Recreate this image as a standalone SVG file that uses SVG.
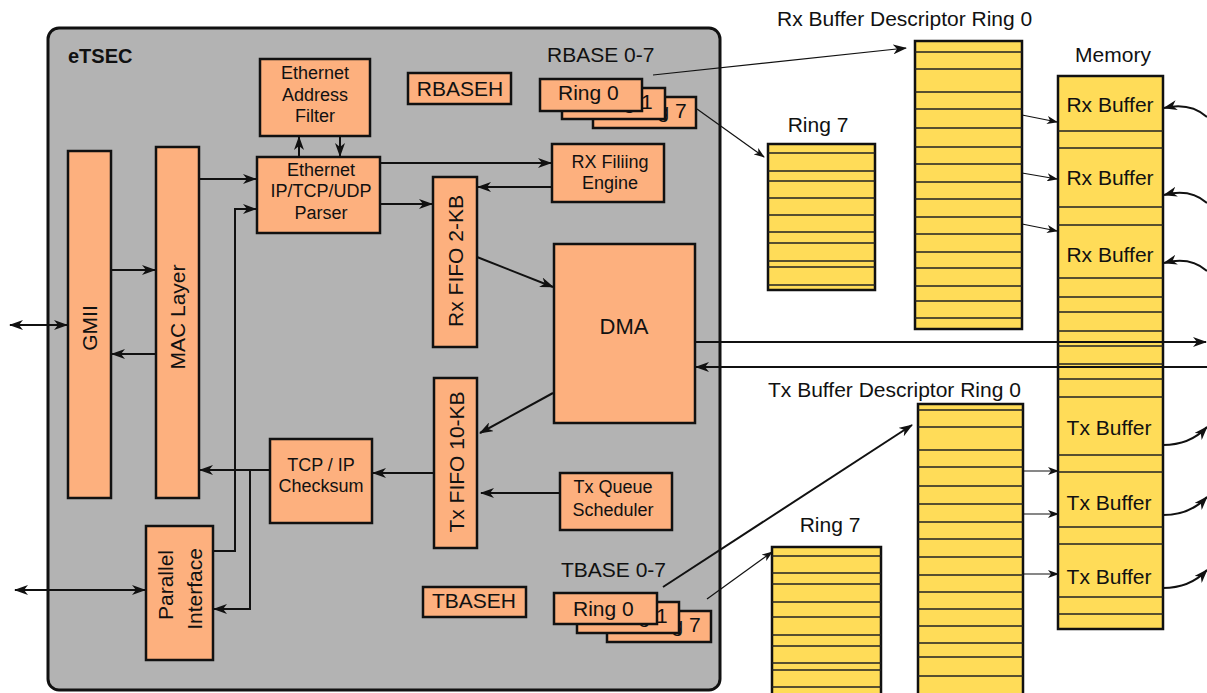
<svg xmlns="http://www.w3.org/2000/svg" width="1207" height="693" viewBox="0 0 1207 693">
<defs>
<style>
text{font-family:"Liberation Sans",Arial,sans-serif;fill:#111}
.big{font-size:21px}
.sm{font-size:18px}
.c{text-anchor:middle}
.box{fill:#fdb07e;stroke:#111;stroke-width:2.5}
.yel{fill:#ffdc58;stroke:#111;stroke-width:2.5}
.row{stroke:#222;stroke-width:1.3;fill:none}
.ln{fill:none;stroke:#111;stroke-width:2}
.th{fill:none;stroke:#111;stroke-width:1.2}
.a{marker-end:url(#ah)}
.as{marker-end:url(#ahs)}
.b{marker-start:url(#ahr)}
</style>
<marker id="ah" markerUnits="userSpaceOnUse" markerWidth="14" markerHeight="10" refX="13" refY="5" orient="auto"><path d="M0,0 L14,5 L0,10 L4,5 z" fill="#111"/></marker>
<marker id="ahr" markerUnits="userSpaceOnUse" markerWidth="14" markerHeight="10" refX="1" refY="5" orient="auto"><path d="M14,0 L0,5 L14,10 L10,5 z" fill="#111"/></marker>
<marker id="ahs" markerUnits="userSpaceOnUse" markerWidth="11" markerHeight="8" refX="10" refY="4" orient="auto"><path d="M0,0 L11,4 L0,8 L3,4 z" fill="#111"/></marker>
</defs>
<rect width="1207" height="693" fill="#fff"/>

<g id="etsec">
<rect x="48" y="28" width="672" height="662" rx="11" fill="#b3b3b3" stroke="#111" stroke-width="3"/>
<text x="68" y="63" style="font-size:20px;font-weight:bold">eTSEC</text>
</g>

<g id="gmii"><rect class="box" x="68" y="151" width="43" height="347"/><text class="big c" transform="translate(97,328) rotate(-90)">GMII</text></g>
<g id="mac"><rect class="box" x="156" y="147" width="43" height="351"/><text class="big c" transform="translate(185,317) rotate(-90)">MAC Layer</text></g>
<g id="addrfilter"><rect class="box" x="260" y="59" width="110" height="77"/><text class="sm c" x="315" y="79">Ethernet</text><text class="sm c" x="315" y="101">Address</text><text class="sm c" x="315" y="122">Filter</text></g>
<g id="parser"><rect class="box" x="257" y="157" width="123" height="76"/><text class="sm c" x="321" y="176">Ethernet</text><text class="sm c" x="321" y="197">IP/TCP/UDP</text><text class="sm c" x="321" y="219">Parser</text></g>
<g id="rbaseh"><rect class="box" x="408" y="73" width="103" height="31"/><text class="big c" x="460" y="96">RBASEH</text></g>
<g id="rbase"><text class="big" x="547" y="62">RBASE 0-7</text>
<rect class="box" x="593" y="97" width="103" height="31"/><text class="big" x="626" y="118">Ring 7</text>
<rect class="box" x="562" y="88" width="103" height="31"/><text class="big" x="592" y="109">Ring 1</text>
<rect class="box" x="540" y="79" width="102" height="32"/><text class="big" x="558" y="100">Ring 0</text></g>
<g id="rxfiling"><rect class="box" x="552" y="144" width="112" height="58"/><text class="sm c" x="610" y="168">RX Filiing</text><text class="sm c" x="610" y="189">Engine</text></g>
<g id="rxfifo"><rect class="box" x="433" y="177" width="44" height="170"/><text class="big c" transform="translate(463,261) rotate(-90)">Rx FIFO 2-KB</text></g>
<g id="dma"><rect class="box" x="554" y="244" width="141" height="179"/><text class="c" style="font-size:22px" x="624" y="334">DMA</text></g>
<g id="txfifo"><rect class="box" x="434" y="378" width="43" height="170"/><text class="big c" transform="translate(464,462) rotate(-90)">Tx FIFO 10-KB</text></g>
<g id="txqueue"><rect class="box" x="560" y="473" width="112" height="57"/><text class="sm c" x="613" y="493">Tx Queue</text><text class="sm c" x="613" y="516">Scheduler</text></g>
<g id="checksum"><rect class="box" x="270" y="439" width="102" height="84"/><text class="sm c" x="321" y="471">TCP / IP</text><text class="sm c" x="321" y="492">Checksum</text></g>
<g id="parallel"><rect class="box" x="146" y="526" width="67" height="134"/><text class="big c" transform="translate(173,585) rotate(-90)">Parallel</text><text class="big c" transform="translate(202,589) rotate(-90)">Interface</text></g>
<g id="tbaseh"><rect class="box" x="423" y="587" width="103" height="30"/><text class="big c" x="474" y="608">TBASEH</text></g>
<g id="tbase"><text class="big" x="561" y="577">TBASE 0-7</text>
<rect class="box" x="607" y="611" width="104" height="31"/><text class="big" x="640" y="632">Ring 7</text>
<rect class="box" x="577" y="602" width="102" height="31"/><text class="big" x="607" y="623">Ring 1</text>
<rect class="box" x="554" y="593" width="103" height="31"/><text class="big" x="573" y="616">Ring 0</text></g>

<g id="rxring7"><text class="big c" x="818" y="132">Ring 7</text><rect class="yel" x="768" y="144" width="107" height="146"/>
<path class="row" d="M768,153H875M768,171H875M768,181H875M768,198H875M768,215H875M768,232H875M768,243H875M768,261H875M768,267H875M768,285H875"/></g>
<g id="rxring0"><text class="big" x="777" y="26">Rx Buffer Descriptor Ring 0</text><rect class="yel" x="915" y="41" width="107" height="288"/>
<path class="row" d="M915,52H1022M915,69H1022M915,92H1022M915,109H1022M915,128H1022M915,147H1022M915,164H1022M915,182H1022M915,199H1022M915,217H1022M915,234H1022M915,252H1022M915,268H1022M915,286H1022M915,301H1022M915,318H1022"/></g>
<g id="memory"><text class="big c" x="1113" y="62">Memory</text><rect class="yel" x="1058" y="76" width="105" height="553"/>
<path class="row" d="M1058,131H1163M1058,148H1163M1058,207H1163M1058,225H1163M1058,278H1163M1058,297H1163M1058,312H1163M1058,331H1163M1058,346H1163M1058,364H1163M1058,379H1163M1058,397H1163M1058,455H1163M1058,472H1163M1058,527H1163M1058,544H1163M1058,597H1163M1058,614H1163"/>
<text class="big c" x="1110" y="112">Rx Buffer</text><text class="big c" x="1110" y="185">Rx Buffer</text><text class="big c" x="1110" y="262">Rx Buffer</text>
<text class="big c" x="1109" y="435">Tx Buffer</text><text class="big c" x="1109" y="510">Tx Buffer</text><text class="big c" x="1109" y="584">Tx Buffer</text></g>
<g id="txring0"><text class="big" x="768" y="397">Tx Buffer Descriptor Ring 0</text><rect class="yel" x="918" y="404" width="105" height="300"/>
<path class="row" d="M918,410H1023M918,427H1023M918,450H1023M918,467H1023M918,486H1023M918,504H1023M918,522H1023M918,539H1023M918,557H1023M918,575H1023M918,592H1023M918,609H1023M918,626H1023M918,643H1023M918,657H1023M918,676H1023"/></g>
<g id="txring7"><text class="big c" x="830" y="532">Ring 7</text><rect class="yel" x="772" y="547" width="109" height="160"/>
<path class="row" d="M772,556H881M772,573H881M772,584H881M772,602H881M772,617H881M772,635H881M772,646H881M772,663H881M772,670H881M772,687H881"/></g>

<g id="connectors">
<path class="ln a b" d="M10,325H67"/>
<path class="ln a" d="M111,270H155"/>
<path class="ln a" d="M156,354H112"/>
<path class="ln a" d="M199,179H256"/>
<path class="ln a" d="M213,551H235V209H256"/>
<path class="ln a" d="M270,470H200"/>
<path class="ln a" d="M250,470V609H214"/>
<path class="ln a b" d="M15,590H145"/>
<path class="ln a" d="M299,157V137"/>
<path class="ln a" d="M340,136V156"/>
<path class="ln a" d="M380,163H551"/>
<path class="ln a" d="M552,187H478"/>
<path class="ln a" d="M380,204H432"/>
<path class="ln a" d="M477,257L553,287"/>
<path class="ln a" d="M553,393L480,433"/>
<path class="ln a" d="M434,473H373"/>
<path class="ln a" d="M560,493H481"/>
<path class="ln a" d="M695,342H1206"/>
<path class="ln a" d="M1207,367H696"/>
<path class="th a" d="M653,75L906,48"/>
<path class="th as" d="M697,109L764,157"/>
<path class="ln a" d="M663,587L912,425"/>
<path class="th as" d="M707,599L772,552"/>
<path class="th as" d="M1022,115L1057,122"/>
<path class="th as" d="M1022,173L1057,179"/>
<path class="th as" d="M1022,224L1057,231"/>
<path class="th as" d="M1023,471H1058"/>
<path class="th as" d="M1023,514H1058"/>
<path class="th as" d="M1023,574H1058"/>
<path class="ln a" d="M1207,117Q1190,102 1164,108"/>
<path class="ln a" d="M1207,203Q1190,188 1164,195"/>
<path class="ln a" d="M1207,271Q1190,256 1164,263"/>
<path class="ln a" d="M1163,445Q1190,445 1207,427"/>
<path class="ln a" d="M1163,515Q1190,515 1207,497"/>
<path class="ln a" d="M1163,588Q1190,588 1207,570"/>
</g>
</svg>
